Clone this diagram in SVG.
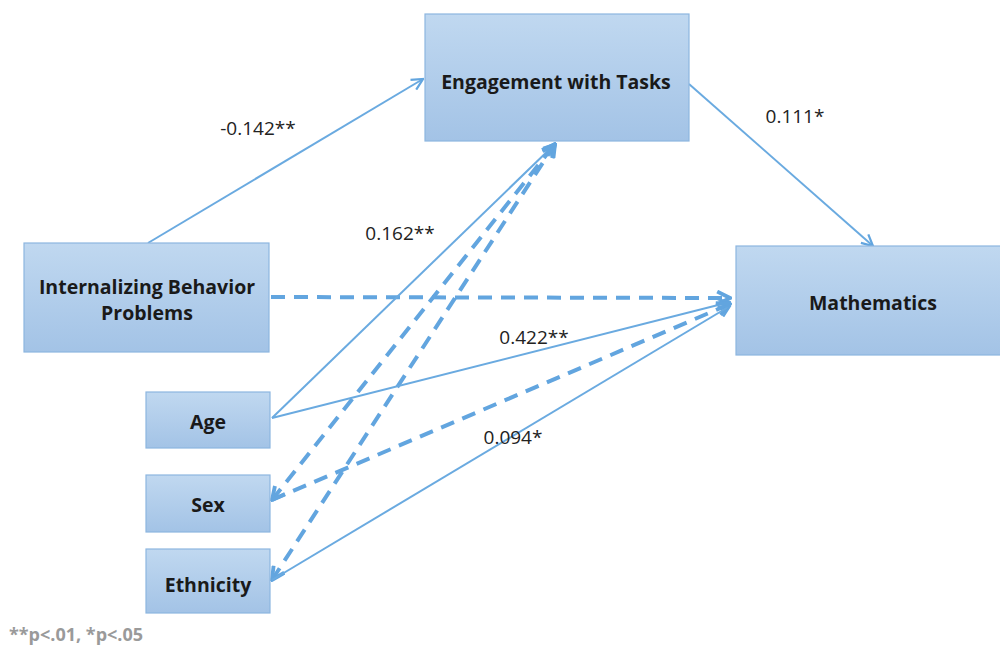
<svg xmlns="http://www.w3.org/2000/svg" width="1000" height="648" viewBox="0 0 1000 648">
<defs>
<linearGradient id="g" x1="0" y1="0" x2="0" y2="1">
<stop offset="0" stop-color="#c0d8f0"/>
<stop offset="1" stop-color="#a3c3e6"/>
</linearGradient>
<marker id="ahs" viewBox="0 0 10 10" refX="9" refY="5" markerWidth="14" markerHeight="14" orient="auto-start-reverse" markerUnits="userSpaceOnUse">
<path d="M1,1 L9,5 L1,9" fill="none" stroke="#62a5df" stroke-width="1.6"/>
</marker>
<marker id="ahd" viewBox="0 0 10 10" refX="9" refY="5" markerWidth="16" markerHeight="16" orient="auto-start-reverse" markerUnits="userSpaceOnUse">
<path d="M1,1 L9,5 L1,9" fill="none" stroke="#62a5df" stroke-width="2.4"/>
</marker>
</defs>
<style>
.box{fill:url(#g);stroke:#8db6df;stroke-width:1.2}
.nt{font-family:"Open Sans","Liberation Sans",sans-serif;font-weight:bold;font-size:19.5px;fill:#1a1a1a;text-anchor:middle}
.lb{font-family:"Open Sans","Liberation Sans",sans-serif;font-size:19px;fill:#222;text-anchor:middle}
.s{fill:none;stroke:#6aaae0;stroke-width:2;marker-end:url(#ahs)}
.d{fill:none;stroke:#62a5df;stroke-width:4;stroke-dasharray:14 9;marker-end:url(#ahd)}
.fn{font-family:"Open Sans","Liberation Sans",sans-serif;font-weight:bold;font-size:18px;fill:#9a9a9a}
</style>
<rect width="1000" height="648" fill="#ffffff"/>
<g id="connectors">
<line class="s" x1="148" y1="243" x2="423" y2="79"/>
<line class="s" x1="689" y1="84" x2="873" y2="246"/>
<line class="d" x1="271" y1="297" x2="730" y2="298"/>
<line class="s" x1="272" y1="418" x2="555" y2="144"/>
<line class="d" x1="272" y1="500" x2="555" y2="144" style="marker-start:url(#ahd)"/>
<line class="d" x1="272" y1="580" x2="555" y2="144" style="marker-start:url(#ahd)"/>
<line class="s" x1="272" y1="418" x2="730" y2="302"/>
<line class="d" x1="272" y1="500" x2="730" y2="304"/>
<line class="s" x1="272" y1="580" x2="730" y2="306"/>
</g>
<g id="engagement">
<rect class="box" x="425" y="14" width="264" height="127"/>
<text class="nt" x="556" y="89">Engagement with Tasks</text>
</g>
<g id="internalizing">
<rect class="box" x="24" y="243" width="245" height="109"/>
<text class="nt" x="147" y="294">Internalizing Behavior</text>
<text class="nt" x="147" y="320">Problems</text>
</g>
<g id="age">
<rect class="box" x="146" y="392" width="124" height="56"/>
<text class="nt" x="208" y="429">Age</text>
</g>
<g id="sex">
<rect class="box" x="146" y="475" width="124" height="57"/>
<text class="nt" x="208" y="512">Sex</text>
</g>
<g id="ethnicity">
<rect class="box" x="146" y="549" width="124" height="64"/>
<text class="nt" x="208" y="592">Ethnicity</text>
</g>
<g id="mathematics">
<rect class="box" x="736" y="246" width="270" height="109"/>
<text class="nt" x="873" y="310">Mathematics</text>
</g>
<g id="labels">
<text class="lb" x="258" y="135">-0.142**</text>
<text class="lb" x="795" y="123">0.111*</text>
<text class="lb" x="400" y="240">0.162**</text>
<text class="lb" x="534" y="344">0.422**</text>
<text class="lb" x="513" y="444">0.094*</text>
</g>
<text class="fn" x="9" y="641">**p&lt;.01, *p&lt;.05</text>
</svg>
